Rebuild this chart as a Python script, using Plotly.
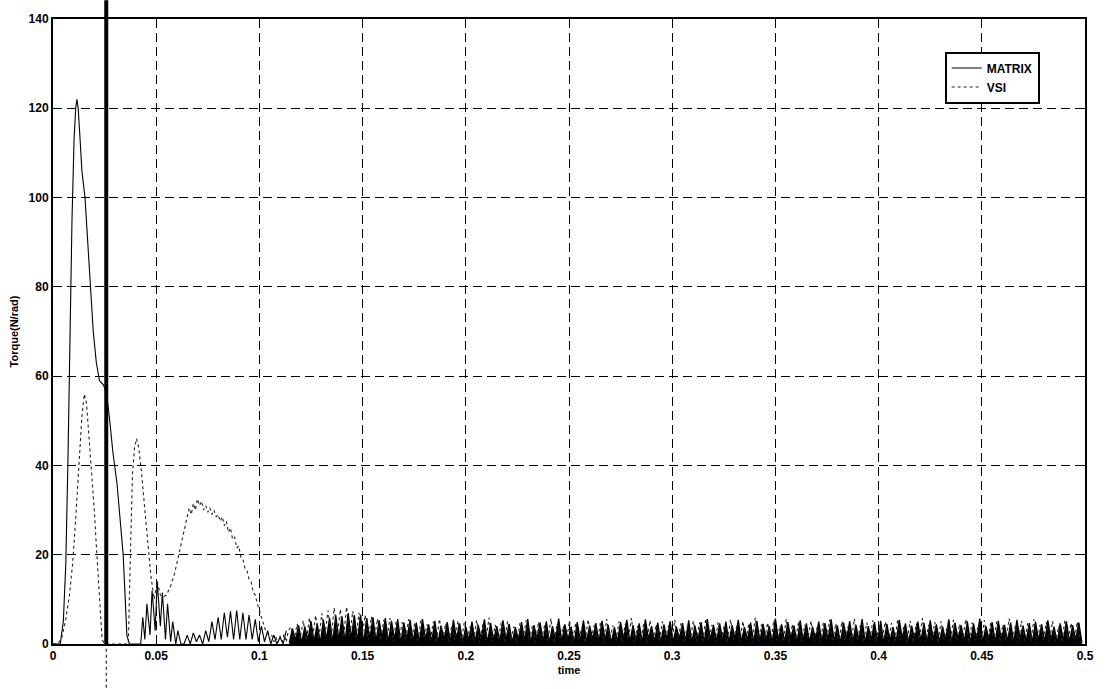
import plotly.graph_objects as go

# ---------------- data ----------------
# MATRIX transient (solid)
matrix_t = [0, 0.0035, 0.005, 0.0062, 0.0072, 0.0082, 0.0092, 0.0102, 0.011, 0.0116, 0.0122,
            0.013, 0.014, 0.0155, 0.017, 0.018, 0.0195, 0.021, 0.0225, 0.0245, 0.026, 0.0275,
            0.029, 0.031, 0.0325, 0.034, 0.035, 0.0358, 0.037,
            0.0405, 0.0425, 0.0435, 0.0445, 0.0455, 0.047, 0.048, 0.0495, 0.0505, 0.052, 0.053,
            0.0545, 0.0555, 0.057, 0.058, 0.0595, 0.0605, 0.062, 0.0635,
            0.065, 0.0665, 0.068, 0.0695, 0.071, 0.0725, 0.074, 0.0755, 0.077, 0.0785, 0.08,
            0.0815, 0.083, 0.0845, 0.086, 0.0875, 0.089, 0.0905, 0.092, 0.0935, 0.095, 0.0965,
            0.098, 0.0995, 0.101, 0.1025, 0.104, 0.1055, 0.107, 0.1085, 0.11, 0.1115, 0.113]
matrix_y = [0, 0, 5, 18, 40, 68, 95, 113, 120, 122, 120,
            114, 106, 100, 88, 80, 70, 63, 59, 58, 56, 50,
            43, 36, 28, 20, 10, 2, 0,
            0, 0, 6, 1, 9, 2, 12, 3, 14, 4, 11.5,
            1, 9, 0.5, 5, 0, 3, 0, 0,
            2, 0, 2.5, 0.5, 2, 0, 3, 0.5, 5, 1, 6,
            1, 7, 1.5, 7.3, 1, 7.5, 1, 7, 1, 6.5, 1,
            5.5, 0.5, 4, 0.5, 3, 0, 2, 0, 1.5, 0, 3]

# MATRIX steady-state ripple, sampled every 1.5 ms from 0.1145 s
matrix_noise_t0 = 0.1145
matrix_noise_dt = 0.0015
matrix_noise = [
    0.3, 3.5, 0.8, 4.2, 0.2, 3.9, 1.0, 5.1, 0.5, 4.6, 0.2, 5.4, 1.1, 5.8, 0.4, 6.4, 0.9, 6.2, 0.3, 6.9,
    1.2, 6.5, 0.6, 6.6, 0.2, 5.8, 1.0, 6.0, 0.5, 5.3, 1.3, 5.8, 0.4, 5.2, 0.9, 5.6, 0.2, 4.8, 1.1, 5.4,
    0.6, 4.8, 0.3, 5.6, 1.0, 4.4, 0.5, 5.2, 0.2, 4.1, 0.9, 4.9, 0.4, 5.4, 1.2, 4.6, 0.3, 3.9, 0.8, 5.0,
    0.5, 4.3, 1.1, 5.5, 0.2, 4.7, 0.7, 4.0, 0.4, 5.3, 1.0, 4.5, 0.3, 3.8, 0.9, 4.9, 0.6, 5.6, 0.2, 4.2,
    1.2, 4.8, 0.5, 5.1, 0.3, 4.0, 0.8, 5.7, 0.4, 4.4, 1.0, 3.9, 0.2, 4.9, 0.7, 5.3, 0.5, 4.1, 1.1, 4.7,
    0.3, 5.2, 0.9, 4.3, 0.2, 3.8, 0.6, 4.9, 1.0, 5.4, 0.4, 4.2, 0.8, 4.6, 0.3, 5.5, 1.1, 4.0, 0.5, 4.8,
    0.2, 4.4, 0.9, 5.1, 0.4, 3.9, 1.2, 4.7, 0.6, 5.3, 0.3, 4.1, 0.8, 4.9, 0.2, 5.6, 1.0, 4.3, 0.5, 4.6,
    0.7, 5.0, 0.3, 4.2, 1.1, 5.4, 0.4, 3.8, 0.9, 4.8, 0.2, 5.2, 0.6, 4.5, 1.0, 4.0, 0.3, 5.7, 0.8, 4.4,
    0.5, 4.9, 1.2, 4.1, 0.2, 5.3, 0.7, 4.6, 0.4, 3.9, 1.0, 5.0, 0.3, 4.7, 0.9, 5.5, 0.6, 4.2, 0.2, 4.8,
    1.1, 5.1, 0.4, 4.3, 0.8, 5.6, 0.3, 4.0, 1.0, 4.9, 0.5, 5.2, 0.2, 4.5, 0.7, 3.8, 0.4, 5.4, 1.2, 4.6,
    0.3, 4.1, 0.9, 5.0, 0.6, 4.7, 0.2, 5.3, 1.0, 4.4, 0.4, 3.9, 0.8, 5.5, 0.3, 4.8, 1.1, 4.2, 0.5, 5.1,
    0.2, 4.6, 0.7, 5.7, 0.4, 4.0, 1.0, 4.9, 0.3, 5.2, 0.9, 4.3, 0.6, 4.8, 0.2, 5.4, 1.2, 4.1, 0.5, 4.7,
    0.3, 5.0, 0.8, 4.4, 0.4, 5.3, 1.0, 3.9, 0.2, 4.6, 0.7, 5.1, 0.5, 4.2, 0.9, 4.8, 0.3,
]

# VSI transient (dotted)
vsi_t = [0, 0.002, 0.004, 0.006, 0.008, 0.0095, 0.011, 0.0125, 0.014, 0.0152, 0.0162, 0.0175,
         0.0188, 0.02, 0.021, 0.022, 0.023, 0.0238, 0.025, 0.036,
         0.0365, 0.0375, 0.0385, 0.0395, 0.0405, 0.0415, 0.043, 0.0445, 0.046, 0.0475, 0.049,
         0.0505, 0.052, 0.0535, 0.055, 0.057, 0.059, 0.061, 0.063, 0.065, 0.066, 0.067, 0.068,
         0.069, 0.070, 0.071, 0.072, 0.073, 0.074, 0.075, 0.076, 0.077, 0.078, 0.079, 0.080,
         0.081, 0.082, 0.083, 0.084, 0.085, 0.086, 0.087, 0.088, 0.089, 0.090, 0.091, 0.092,
         0.093, 0.094, 0.095, 0.096, 0.097, 0.098, 0.099, 0.100, 0.101, 0.102, 0.103, 0.104,
         0.105, 0.106, 0.107, 0.108, 0.109, 0.110, 0.111, 0.112, 0.113, 0.114]
vsi_y = [0, 0, 1, 5, 11, 18, 28, 40, 51, 56, 54, 46,
         38, 30, 22, 14, 6, 1, 0, 0,
         0, 20, 38, 44, 46, 44, 38, 30, 22, 15, 10,
         14, 11, 10.5, 11, 13, 16, 20, 24, 28, 30.5, 29, 31.5,
         30, 32.5, 31, 32, 30, 31, 29.5, 30.5, 29, 30, 28.5, 29,
         27.5, 28.5, 26.5, 27.5, 25, 26, 23.5, 24, 21.5, 22, 19.5, 19,
         17, 16.5, 14.5, 14, 11.5, 11, 9, 7.5, 6, 4.5, 3, 2.5,
         1, 2, 0.5, 1.5, 0.3, 1.8, 0.5, 2.2, 0.4, 3]

# VSI steady-state ripple, sampled every 1.5 ms from 0.11525 s
vsi_noise_t0 = 0.11525
vsi_noise_dt = 0.0015
vsi_noise = [
    3.8, 0.6, 4.5, 1.2, 5.2, 0.8, 5.9, 1.5, 6.4, 1.0, 6.9, 1.8, 7.5, 1.3, 8.1, 2.0, 7.8, 1.4, 8.3, 1.7,
    7.4, 1.1, 7.0, 1.6, 6.5, 0.9, 6.1, 1.3, 5.7, 0.7, 5.4, 1.0, 5.8, 0.5, 5.1, 1.2, 4.9, 0.6, 5.5, 0.9,
    4.7, 0.4, 5.3, 1.1, 4.4, 0.7, 5.0, 0.3, 5.6, 1.0, 4.6, 0.5, 4.2, 0.9, 5.2, 0.4, 4.8, 1.2, 4.0, 0.6,
    5.4, 0.3, 4.5, 0.8, 5.9, 0.5, 4.3, 1.0, 4.9, 0.4, 5.1, 0.7, 3.9, 0.2, 4.7, 1.1, 5.3, 0.6, 4.1, 0.3,
    5.0, 0.9, 4.4, 0.5, 5.7, 0.2, 4.6, 1.0, 4.0, 0.7, 5.2, 0.4, 4.8, 0.8, 3.8, 0.3, 5.5, 1.1, 4.3, 0.5,
    4.9, 0.2, 5.6, 0.9, 4.2, 0.6, 5.1, 0.3, 4.5, 1.0, 5.8, 0.4, 4.0, 0.7, 4.7, 0.2, 5.3, 0.9, 4.4, 0.5,
    5.0, 1.2, 4.1, 0.3, 5.4, 0.8, 4.6, 0.4, 3.9, 1.0, 5.2, 0.6, 4.8, 0.2, 5.7, 0.7, 4.3, 0.5, 4.9, 1.1,
    4.2, 0.3, 5.5, 0.9, 4.0, 0.4, 5.1, 0.8, 4.7, 0.2, 5.9, 0.6, 4.4, 1.0, 4.8, 0.3, 5.3, 0.7, 4.1, 0.5,
    5.6, 0.2, 4.5, 0.9, 5.0, 0.4, 4.3, 1.1, 5.2, 0.6, 3.8, 0.3, 4.9, 0.8, 5.4, 0.5, 4.6, 0.2, 5.1, 1.0,
    4.0, 0.4, 5.7, 0.7, 4.4, 0.3, 4.8, 0.9, 5.3, 0.5, 4.2, 1.2, 5.0, 0.6, 4.7, 0.2, 5.5, 0.8, 4.1, 0.4,
    5.2, 0.3, 4.6, 1.0, 5.8, 0.5, 4.3, 0.7, 4.9, 0.2, 5.1, 0.9, 4.0, 0.4, 5.4, 0.6, 4.5, 1.1, 5.6, 0.3,
    4.8, 0.8, 4.2, 0.5, 5.3, 0.2, 4.7, 0.9, 5.0, 0.4, 4.4, 1.0, 5.7, 0.6, 4.1, 0.3, 5.2, 0.7, 4.6, 0.5,
    5.5, 0.2, 4.3, 0.8, 4.9, 0.4, 5.1, 0.6, 4.0, 0.3, 5.4, 0.9, 4.7, 0.2, 5.0, 0.5,
]

x_ticks = [0, 0.05, 0.1, 0.15, 0.2, 0.25, 0.3, 0.35, 0.4, 0.45, 0.5]
x_tick_labels = ["0", "0.05", "0.1", "0.15", "0.2", "0.25", "0.3", "0.35", "0.4", "0.45", "0.5"]
y_ticks = [0, 20, 40, 60, 80, 100, 120, 140]
marker_line_t = 0.0258

# ---------------- build ----------------
m_noise_x = [matrix_noise_t0 + i * matrix_noise_dt for i in range(len(matrix_noise))]
v_noise_x = [vsi_noise_t0 + i * vsi_noise_dt for i in range(len(vsi_noise))]
vx = vsi_t + v_noise_x
vy = vsi_y + vsi_noise

FONT = "Liberation Sans Narrow, Arial Narrow, Liberation Sans, Arial, sans-serif"

fig = go.Figure()
fig.add_trace(go.Scatter(x=matrix_t, y=matrix_y, mode="lines", name="MATRIX",
                         line=dict(color="black", width=1.1), legendgroup="m"))
fig.add_trace(go.Scatter(x=m_noise_x, y=matrix_noise, mode="lines", name="MATRIX",
                         line=dict(color="black", width=1.3), legendgroup="m",
                         fill="tozeroy", fillcolor="black", showlegend=False))
fig.add_trace(go.Scatter(x=vx, y=vy, mode="lines", name="VSI",
                         line=dict(color="#222222", width=1.1, dash="dot")))

axis_common = dict(showline=True, linecolor="black", linewidth=2, mirror="ticks",
                   ticks="inside", ticklen=4, tickcolor="black",
                   showgrid=True, gridcolor="black", gridwidth=1.2, griddash="9px,5px",
                   zeroline=False,
                   tickfont=dict(family=FONT, size=12, color="black", weight="bold"))

fig.update_xaxes(range=[0, 0.5], tickvals=x_ticks, ticktext=x_tick_labels,
                 title=dict(text="time", font=dict(family=FONT, size=11, color="black", weight="bold"),
                            standoff=4),
                 **axis_common)
fig.update_yaxes(range=[0, 140], tickvals=y_ticks,
                 title=dict(text="Torque(N/rad)", font=dict(family=FONT, size=11, color="black", weight="bold"),
                            standoff=8),
                 **axis_common)

fig.add_shape(type="line", xref="x", yref="paper", x0=marker_line_t, x1=marker_line_t,
              y0=0, y1=1.03, line=dict(color="black", width=4))
fig.add_shape(type="line", xref="x", yref="paper", x0=marker_line_t, x1=marker_line_t,
              y0=-0.07, y1=0, line=dict(color="black", width=1, dash="dot"))

fig.update_layout(
    width=1106, height=689,
    margin=dict(l=53, r=15, t=14, b=45),
    paper_bgcolor="white", plot_bgcolor="white",
    showlegend=True,
    legend=dict(x=0.864, y=0.948, xanchor="left", yanchor="top",
                bgcolor="white", bordercolor="black", borderwidth=2,
                font=dict(family=FONT, size=12, color="black", weight="bold"),
                tracegroupgap=0, itemwidth=30),
)

fig.write_html("out.html")
